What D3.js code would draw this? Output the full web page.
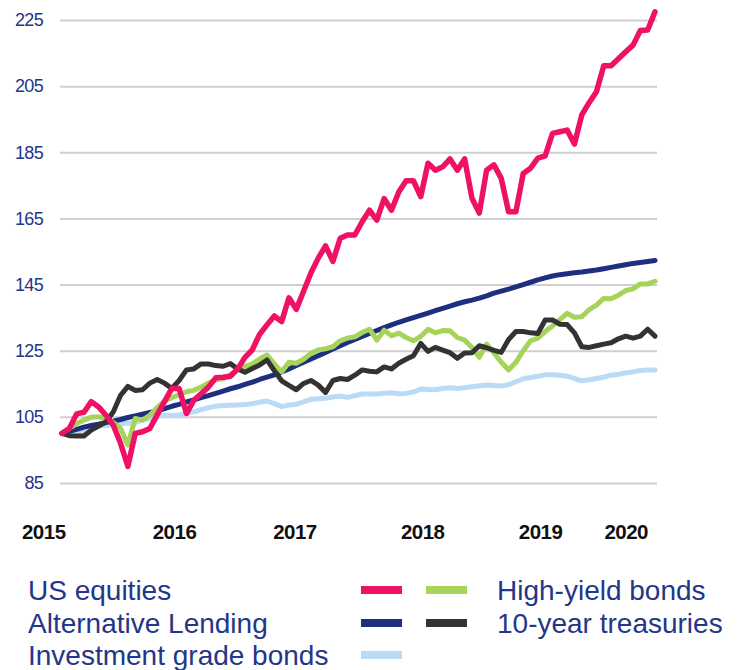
<!DOCTYPE html>
<html>
<head>
<meta charset="utf-8">
<script src="https://cdn.jsdelivr.net/npm/d3@7"></script>
<style>
  html, body { margin: 0; padding: 0; background: #fff; }
  svg { display: block; }
</style>
</head>
<body>
<svg id="chart" width="739" height="670"></svg>
<script>
// ---- data (monthly index values, start = 100) ----
const usEquities = [100,101.5,105.9,106.4,109.6,108,105.5,102.5,97,90,100,100.5,101.5,105.6,109.6,113.6,113.6,106,110,112,114,116.8,117,117.3,119.5,123,125.3,130,132.8,135.5,133.8,141,137.5,143,148.5,153,156.7,152,159,160,160,164,167.5,164.5,171,167.5,173,176.4,176.4,171.6,181.7,179.6,180.6,183,179.6,183,171.1,166.6,179.6,181.2,177.1,167,167,178.6,180.2,183.2,183.9,190.7,191.2,191.7,187.5,196.3,200,203.3,211.2,211.2,213.3,215.4,217.4,221.8,222,227.5];
const altLending = [100,100.6,101.2,101.9,102.4,102.8,103.3,103.7,104.2,104.8,105.3,105.8,106.3,106.8,107.5,108.2,108.8,109.5,110.1,110.8,111.4,112.1,112.8,113.5,114.1,114.8,115.5,116.3,117,117.7,118.6,119.5,120.5,121.5,122.5,123.5,124.5,125.5,126.5,127.5,128.4,129.3,130.2,131.1,132,132.8,133.6,134.3,135,135.7,136.4,137.1,137.8,138.5,139.2,139.8,140.3,140.9,141.6,142.4,143,143.6,144.3,145,145.7,146.4,147,147.6,148,148.3,148.6,148.8,149.1,149.4,149.8,150.2,150.6,151,151.4,151.7,152,152.3];
const invGrade = [100,100.2,100.5,100.6,101.5,102.2,102.4,102.7,103,103.1,103.3,104,104.6,105,105.6,105.4,105.6,106.1,106.5,107.2,107.8,108.2,108.4,108.5,108.6,108.7,109,109.4,109.8,109,108.1,108.6,108.8,109.5,110.3,110.5,110.6,111,111.3,110.9,111.4,111.9,111.9,111.9,112.1,112.3,112,112.1,112.5,113.4,113.3,113.2,113.6,113.8,113.6,113.8,114.1,114.4,114.6,114.5,114.3,114.7,115.6,116.5,116.9,117.3,117.7,117.7,117.6,117.3,116.6,115.9,116.2,116.6,117,117.6,117.9,118.3,118.6,119,119.2,119.2];
const highYield = [100,101.5,103,104,104.9,105,104.5,103.3,101.5,96.5,104.5,104,105.5,107.8,109.8,110.8,111.7,112.6,113,114,115.2,116.2,116.5,117.7,119.2,120.2,121,122.5,123.7,121,118.6,121.5,121.2,122.4,124.2,125.2,125.6,126.2,128,128.8,129.2,130.5,131.5,128.2,131.2,129.5,130.3,129,128,129.3,131.5,130.4,131.1,131,129,128.2,126,123,127,124.3,121.5,119.2,121.5,125,128,128.8,130.8,132.5,134.4,136.3,135.1,135.3,137.4,138.8,140.8,140.7,141.8,143.2,143.7,145.2,145.2,146];
const treasuries = [100,99.3,99.2,99.2,101,102.2,103.5,106.5,111.5,114.2,113,113.2,115.2,116.3,115.2,113.6,116,119.2,119.5,121,121,120.5,120.3,121.1,119.5,118.5,119.6,120.7,122.2,119,115.9,114.5,113.2,115.1,116,114.6,112.4,116,116.6,116.3,117.6,119.2,118.8,118.6,120.1,119.5,121.2,122.4,123.5,127.2,124.8,126,125.2,124.4,122.7,124.3,124.4,126.5,125.9,125.1,124.5,128.4,130.8,130.8,130.4,130.2,134.3,134.3,133,132.9,130.4,126.2,126,126.5,127,127.4,128.6,129.4,128.8,129.4,131.5,129.4];

const yTicks = [85,105,125,145,165,185,205,225];
const yearLabels = ["2015","2016","2017","2018","2019","2020"];
const yearPos = [-2.56,15.3,31.75,49.2,65.3,77.0];  // in month-index units

const series = [
  {name:"Investment grade bonds", values:invGrade,   color:"#BBDAF5"},
  {name:"Alternative Lending",    values:altLending, color:"#1E2F80"},
  {name:"High-yield bonds",       values:highYield,  color:"#A6D45B"},
  {name:"10-year treasuries",     values:treasuries, color:"#333333"},
  {name:"US equities",            values:usEquities, color:"#EE1164"}
];
const colorOf = {};
series.forEach(s => colorOf[s.name] = s.color);

// ---- layout ----
const svg = d3.select("#chart");
const x = d3.scaleLinear().domain([0, usEquities.length - 1]).range([62, 655]);
const y = d3.scaleLinear().domain([85, 225]).range([483, 20]);
const gridL = 60, gridR = 657;
const textBlue = "#243688";
const font = "'Liberation Sans', Arial, sans-serif";

// gridlines
svg.append("g")
  .attr("transform", `translate(${gridR},0)`)
  .call(d3.axisLeft(y).tickValues(yTicks).tickSize(gridR - gridL).tickFormat(""))
  .call(g => g.select(".domain").remove())
  .call(g => g.selectAll("line").attr("stroke", "#cfcfcf").attr("stroke-width", 2));

// y labels
svg.append("g")
  .attr("transform", `translate(${gridL},0)`)
  .call(d3.axisLeft(y).tickValues(yTicks).tickSize(0).tickPadding(17))
  .call(g => g.select(".domain").remove())
  .call(g => g.selectAll("text")
    .attr("fill", textBlue)
    .style("font-family", font)
    .style("font-size", "18px")
    .style("letter-spacing", "-0.7px"));

// x labels
svg.append("g")
  .attr("transform", `translate(0,539)`)
  .call(d3.axisBottom(x).tickValues(yearPos).tickSize(0)
    .tickFormat((d, i) => yearLabels[i]))
  .call(g => g.select(".domain").remove())
  .call(g => g.selectAll("text")
    .attr("y", 0).attr("dy", null)
    .attr("fill", "#111")
    .style("font-family", font)
    .style("font-size", "20.5px")
    .style("font-weight", "bold")
    .style("letter-spacing", "-0.5px"));

// lines
const line = d3.line()
  .x((d, i) => x(i))
  .y(d => y(d))
  .curve(d3.curveLinear);

svg.append("g").selectAll("path")
  .data(series)
  .join("path")
  .attr("d", d => line(d.values))
  .attr("fill", "none")
  .attr("stroke", d => d.color)
  .attr("stroke-width", d => d.name === "US equities" ? 5.5 : 5)
  .attr("stroke-linejoin", "round")
  .attr("stroke-linecap", "round");

// legend
const leftItems = ["US equities", "Alternative Lending", "Investment grade bonds"];
const rightItems = ["High-yield bonds", "10-year treasuries"];
const rowY = [590, 623, 655];

const leg = svg.append("g");
leg.selectAll("text.l").data(leftItems).join("text")
  .attr("class", "l")
  .attr("x", 28).attr("y", (d, i) => rowY[i]).attr("dy", "0.35em")
  .attr("fill", textBlue)
  .style("font-family", font).style("font-size", "28px")
  .text(d => d);
leg.selectAll("rect.l").data(leftItems).join("rect")
  .attr("class", "l")
  .attr("x", 361).attr("y", (d, i) => rowY[i] - 4).attr("width", 41).attr("height", 8)
  .attr("fill", d => colorOf[d]);
leg.selectAll("rect.r").data(rightItems).join("rect")
  .attr("class", "r")
  .attr("x", 426).attr("y", (d, i) => rowY[i] - 4).attr("width", 41).attr("height", 8)
  .attr("fill", d => colorOf[d]);
leg.selectAll("text.r").data(rightItems).join("text")
  .attr("class", "r")
  .attr("x", 497).attr("y", (d, i) => rowY[i]).attr("dy", "0.35em")
  .attr("fill", textBlue)
  .style("font-family", font).style("font-size", "28px")
  .text(d => d);
</script>
</body>
</html>
